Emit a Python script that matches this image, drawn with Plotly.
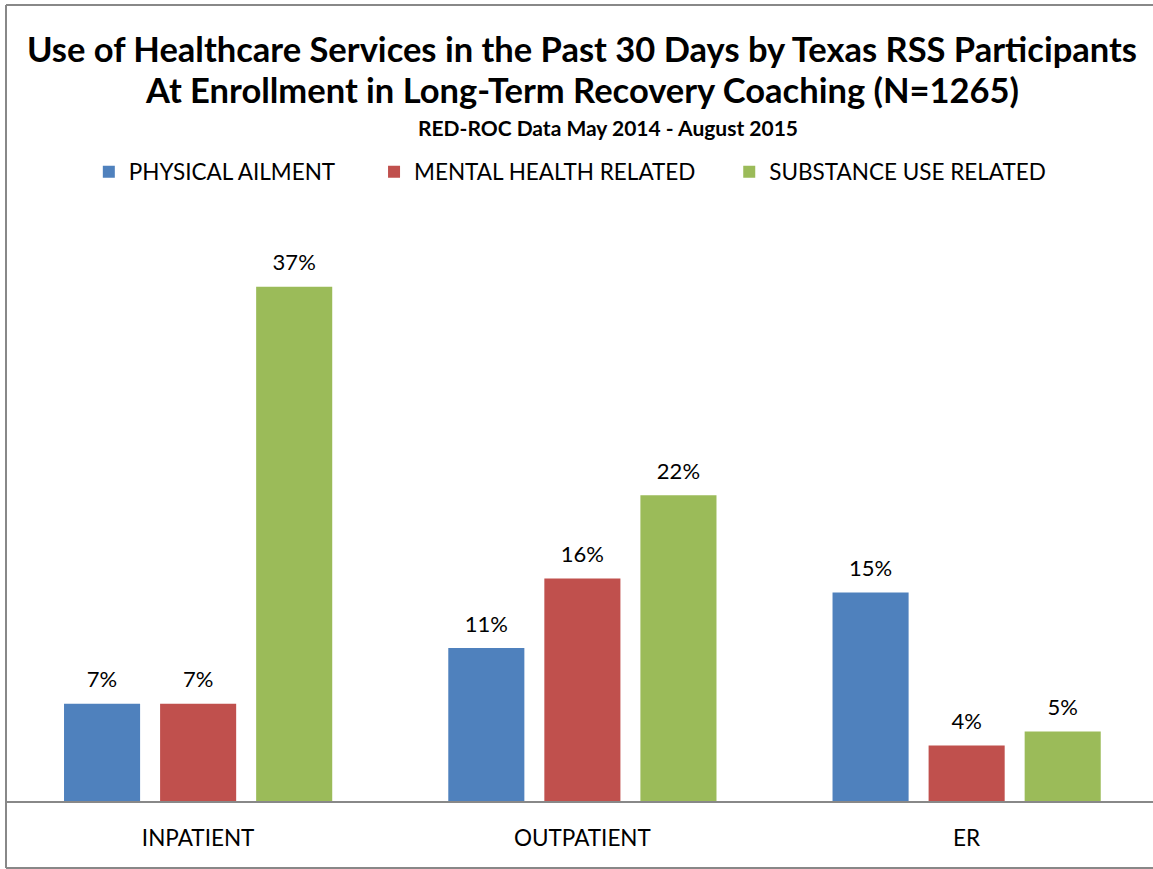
import plotly.graph_objects as go

categories = ["INPATIENT", "OUTPATIENT", "ER"]
series_names = ["PHYSICAL AILMENT", "MENTAL HEALTH RELATED", "SUBSTANCE USE RELATED"]
physical = [7, 11, 15]
mental = [7, 16, 4]
substance = [37, 22, 5]
colors = ["#4F81BD", "#C0504D", "#9BBB59"]

FONT = "Lato, Calibri, Arial, sans-serif"
W, H = 1153, 869
T, B = 245, 68
PH = H - T - B
NB = "\u00a0"
legend_pad = [NB * 6, NB * 5, ""]

fig = go.Figure()
for name, pad, vals, col in zip(series_names, legend_pad, [physical, mental, substance], colors):
    fig.add_trace(go.Bar(
        x=categories, y=vals, name=name + pad,
        marker=dict(color=col, line=dict(width=0)),
        hovertemplate=name + ": %{y}%<extra></extra>",
    ))
for name, vals in zip(series_names, [physical, mental, substance]):
    fig.add_trace(go.Scatter(
        x=categories, y=vals, mode="markers+text", showlegend=False,
        marker=dict(size=16, color="rgba(0,0,0,0)"),
        text=[f"{v}%" for v in vals], textposition="top center",
        textfont=dict(family=FONT, size=22, color="black"),
        cliponaxis=False, hoverinfo="skip",
    ))

fig.update_layout(
    width=W, height=H,
    margin=dict(l=6, r=0, t=T, b=B),
    paper_bgcolor="white", plot_bgcolor="white",
    barmode="group", bargap=0.25, bargroupgap=0.208,
    scattermode="group", scattergap=0.25,
    font=dict(family=FONT, color="black"),
    showlegend=True,
    legend=dict(orientation="h", x=0.492, xanchor="center", y=1 - 172 / H, yref="container",
                yanchor="middle", font=dict(family=FONT, size=22.5, color="black"),
                traceorder="normal"),
    xaxis=dict(range=[-0.5, 2.485], showline=True, linecolor="#888888", linewidth=2,
               ticks="", ticklabelstandoff=16,
               tickfont=dict(family=FONT, size=22.5, color="black"),
               showgrid=False, zeroline=False, fixedrange=True),
    yaxis=dict(range=[0, 40], visible=False, showgrid=False, zeroline=False, fixedrange=True),
)

def py(ypx):
    return (H - B - ypx) / PH

def px(xpx):
    return (xpx - 6) / (W - 6)

fig.add_annotation(text="<b>Use of Healthcare Services in the Past 30 Days by Texas RSS Participants</b>",
                   x=px(581.5), y=py(48), xref="paper", yref="paper", showarrow=False, yanchor="middle",
                   font=dict(family=FONT, size=34.5, color="black"))
fig.add_annotation(text="<b>At Enrollment in Long-Term Recovery Coaching (N=1265)</b>",
                   x=px(581.5), y=py(90), xref="paper", yref="paper", showarrow=False, yanchor="middle",
                   font=dict(family=FONT, size=34.5, color="black"))
fig.add_annotation(text="<b>RED-ROC Data May 2014 - August 2015</b>",
                   x=px(608), y=py(128), xref="paper", yref="paper", showarrow=False, yanchor="middle",
                   font=dict(family=FONT, size=21, color="black"))

# outer frame: left, top and bottom edges (right edge is cropped in the original)
frame = dict(color="#888888", width=2)
fig.add_shape(type="line", xref="paper", yref="paper", x0=0, x1=0, y0=py(868), y1=py(5), line=frame, layer="below")
fig.add_shape(type="line", xref="paper", yref="paper", x0=0, x1=1, y0=py(5), y1=py(5), line=frame, layer="below")
fig.add_shape(type="line", xref="paper", yref="paper", x0=0, x1=1, y0=py(868), y1=py(868), line=frame, layer="below")

fig.write_html("out.html", config={"displayModeBar": False},
               post_script=("document.body.style.margin='0';"
                            "document.body.style.overflow='hidden';"
                            "document.documentElement.style.overflow='hidden';"))
